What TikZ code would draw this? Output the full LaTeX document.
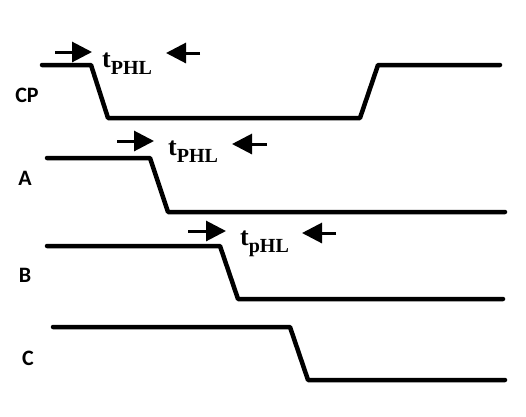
\documentclass[tikz,border=0pt]{standalone}
\usepackage{fontspec}
\setmainfont{Liberation Serif}
\newfontfamily\lblfont{Carlito}
\usetikzlibrary{arrows.meta, positioning}

\newcommand{\tdelay}[1]{\textbf{t\raisebox{-0.28em}{\fontsize{20}{20}\selectfont #1}}}

\tikzset{
  wave/.style={line width=4.5pt, line cap=round, line join=round},
  sig/.style={font=\lblfont\bfseries\fontsize{22}{22}\selectfont, inner sep=0pt},
  delay/.style={font=\fontsize{26}{26}\selectfont, inner sep=0pt, anchor=base west},
  marker/.style={line width=3pt, -{Triangle[length=20pt,width=20pt]}}
}

\begin{document}
\begin{tikzpicture}[x=1pt,y=-1pt]
		\useasboundingbox (0,0) rectangle (526,416);
		% Define the signal names
		\node (cp) [sig] at (27,95) {CP};
		\node (a) [sig] at (25,178) {A};
		\node (b) [sig] at (25,275) {B};
		\node (c) [sig] at (28,358) {C};
		
		% Define the waveform corners
		\coordinate (cp0) at (42,65);
		\coordinate (cp1) at (91,65);
		\coordinate (cp2) at (108,118);
		\coordinate (cp3) at (360,118);
		\coordinate (cp4) at (378,65);
		\coordinate (cp5) at (500,65);
		
		\coordinate (a0) at (47,158);
		\coordinate (a1) at (150,158);
		\coordinate (a2) at (168,212);
		\coordinate (a3) at (505,212);
		
		\coordinate (b0) at (47,246);
		\coordinate (b1) at (220,246);
		\coordinate (b2) at (238,299);
		\coordinate (b3) at (503,299);
		
		\coordinate (c0) at (53,327);
		\coordinate (c1) at (290,327);
		\coordinate (c2) at (308,380);
		\coordinate (c3) at (505,380);
		
		% Draw the waveforms
		\draw[wave] (cp0) -- (cp1) -- (cp2) -- (cp3) -- (cp4) -- (cp5);
		\draw[wave] (a0) -- (a1) -- (a2) -- (a3);
		\draw[wave] (b0) -- (b1) -- (b2) -- (b3);
		\draw[wave] (c0) -- (c1) -- (c2) -- (c3);
		
		% Define the delay labels
		\node (d1) [delay] at (102,67) {\tdelay{PHL}};
		\node (d2) [delay] at (168,155) {\tdelay{PHL}};
		\node (d3) [delay] at (240,245) {\tdelay{pHL}};
		
		% Delay markers
		\coordinate (m1a) at (55,52);
		\coordinate (m1b) at (92,52);
		\coordinate (m1c) at (200,53);
		\coordinate (m1d) at (166,53);
		\coordinate (m2a) at (117,141);
		\coordinate (m2b) at (154,141);
		\coordinate (m2c) at (267,144);
		\coordinate (m2d) at (232,144);
		\coordinate (m3a) at (188,231);
		\coordinate (m3b) at (226,231);
		\coordinate (m3c) at (336,233);
		\coordinate (m3d) at (302,233);
		
		\draw[marker] (m1a) -- (m1b);
		\draw[marker] (m1c) -- (m1d);
		\draw[marker] (m2a) -- (m2b);
		\draw[marker] (m2c) -- (m2d);
		\draw[marker] (m3a) -- (m3b);
		\draw[marker] (m3c) -- (m3d);
	\end{tikzpicture}
\end{document}
